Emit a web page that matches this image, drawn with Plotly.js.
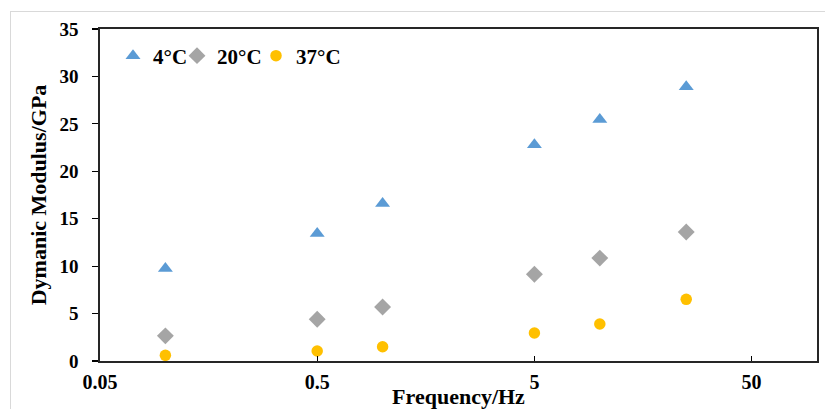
<!DOCTYPE html>
<html>
<head>
<meta charset="utf-8">
<script src="https://cdn.plot.ly/plotly-3.0.1.min.js"></script>
<style>
  html, body { margin: 0; padding: 0; background: #ffffff; }
  #wrap { position: relative; width: 825px; height: 409px; overflow: hidden; }
  #chart { width: 825px; height: 409px; }
  #frame { position: absolute; left: 10px; top: 11px; width: 830px; height: 420px;
           border: 1.5px solid #d9d9d9; pointer-events: none; box-sizing: border-box; }
</style>
</head>
<body>
<div id="wrap">
  <div id="chart"></div>
  <div id="frame"></div>
</div>
<script>
// Frequencies (Hz)
const frequency = [0.1, 0.5, 1, 5, 10, 25];
// Dynamic modulus (GPa) per temperature
const modulus4C  = [9.75, 13.45, 16.6, 22.8, 25.45, 28.9];
const modulus20C = [2.65, 4.4, 5.7, 9.15, 10.85, 13.6];
const modulus37C = [0.6, 1.05, 1.5, 2.95, 3.9, 6.5];
const seriesNames = ['4\u00b0C', '20\u00b0C', '37\u00b0C'];
const xTickVals = [0.05, 0.5, 5, 50];
const xTickText = ['0.05', '0.5', '5', '50'];
const yTickVals = [0, 5, 10, 15, 20, 25, 30, 35];

const serif = 'Liberation Serif, Times New Roman, serif';
const legendFont = {family: serif, size: 21, color: '#000', weight: 'bold'};

const traces = [
  {x: frequency, y: modulus4C, name: seriesNames[0], mode: 'markers', type: 'scatter',
   marker: {symbol: 'triangle-up', size: 13, color: '#5B9BD5'}, legend: 'legend'},
  {x: frequency, y: modulus20C, name: seriesNames[1], mode: 'markers', type: 'scatter',
   marker: {symbol: 'diamond', size: 13, color: '#A5A5A5'}, legend: 'legend2'},
  {x: frequency, y: modulus37C, name: seriesNames[2], mode: 'markers', type: 'scatter',
   marker: {symbol: 'circle', size: 11.5, color: '#FFC000'}, legend: 'legend3'}
];

function legendAt(xpx) {
  return {x: (xpx - 100) / 717, y: 1 - (56 - 29) / 332, xanchor: 'left', yanchor: 'middle',
          orientation: 'h', bgcolor: 'rgba(0,0,0,0)', font: legendFont, itemwidth: 30};
}

const layout = {
  width: 825, height: 409,
  margin: {l: 100, r: 8, t: 29, b: 48},
  paper_bgcolor: 'rgba(0,0,0,0)', plot_bgcolor: '#ffffff',
  showlegend: true,
  legend: legendAt(113),
  legend2: legendAt(177),
  legend3: legendAt(256),
  xaxis: {
    type: 'log', range: [Math.log10(0.05), Math.log10(100)],
    tickvals: xTickVals, ticktext: xTickText,
    ticks: 'inside', ticklen: 5, tickwidth: 1.2, tickcolor: '#000',
    showline: true, linecolor: '#262626', linewidth: 1.8, mirror: true,
    showgrid: false, zeroline: false,
    tickfont: {family: serif, size: 20, color: '#000', weight: 'bold'},
    ticklabelstandoff: 2,
    title: {text: 'Frequency/Hz', standoff: 11,
            font: {family: serif, size: 22, color: '#000', weight: 'bold'}}
  },
  yaxis: {
    range: [0, 35], tickvals: yTickVals,
    ticks: 'outside', ticklen: 6, tickwidth: 1.2, tickcolor: '#000',
    showline: true, linecolor: '#262626', linewidth: 1.8, mirror: true,
    showgrid: false, zeroline: false,
    tickfont: {family: serif, size: 19, color: '#000', weight: 'bold'},
    ticklabelstandoff: 10,
    title: {text: 'Dymanic Modulus/GPa', standoff: 7,
            font: {family: serif, size: 22, color: '#000', weight: 'bold'}}
  }
};

Plotly.newPlot('chart', traces, layout, {displayModeBar: false, staticPlot: true});
</script>
</body>
</html>
